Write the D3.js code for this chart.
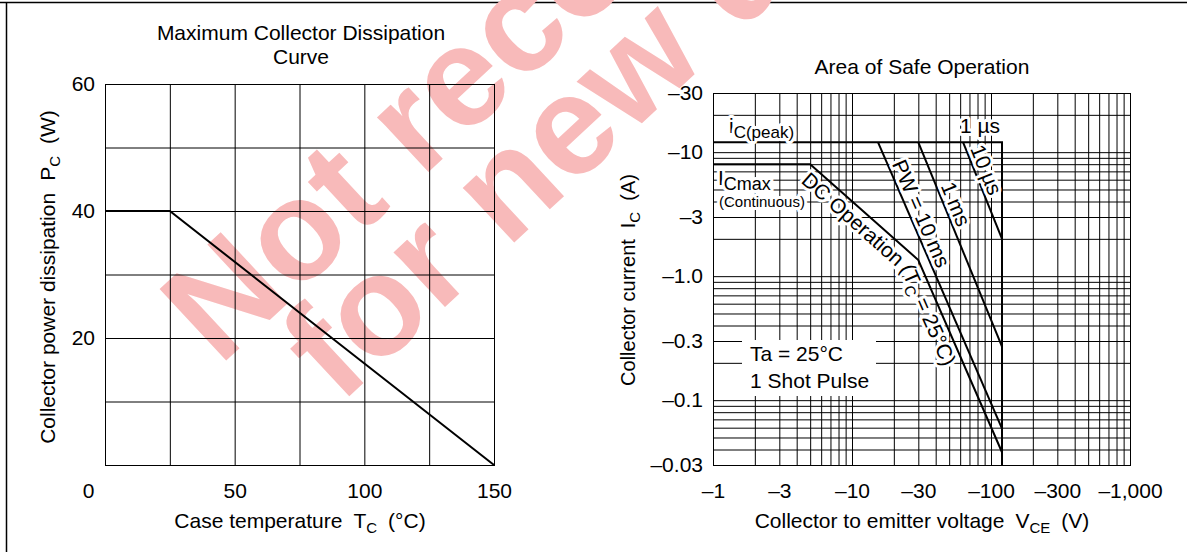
<!DOCTYPE html>
<html>
<head>
<meta charset="utf-8">
<script src="https://cdn.jsdelivr.net/npm/d3@7"></script>
<style>
body { margin: 0; background: #fff; }
text { font-family: "Liberation Sans", Arial, sans-serif; fill: #000; }
</style>
</head>
<body>
<script>
// ---- data: maximum collector dissipation ----
var pcTemp  = [0, 25, 150];
var pcPower = [40, 40, 0];
var tcTicks = [0, 50, 100, 150];
var pcTicks = [20, 40, 60];

// ---- data: area of safe operation (magnitudes, labels carry the sign) ----
var vceTicks  = [1, 3, 10, 30, 100, 300, 1000];
var vceLabels = ["\u20131", "\u20133", "\u201310", "\u201330", "\u2013100", "\u2013300", "\u20131,000"];
var icTicks   = [30, 10, 3, 1, 0.3, 0.1, 0.03];
var icLabels  = ["\u201330", "\u201310", "\u20133", "\u20131.0", "\u20130.3", "\u20130.1", "\u20130.03"];

var peakV   = [1, 120, 120],      peakI   = [12, 12, 0.03];
var dcV     = [1, 5, 30, 120],    dcI     = [8, 8, 1.35, 0.038];
var pw10msV = [15.4, 120],        pw10msI = [12, 0.059];
var pw1msV  = [30, 120],          pw1msI  = [12, 0.27];
var pw10usV = [63, 120],          pw10usI = [12, 2.0];

var FS = "21px", SUB = "15px";

var W = 1187, H = 552;
var svg = d3.select("body").append("svg")
    .attr("width", W)
    .attr("height", H);

// frame lines of the page
svg.append("line").attr("x1", 0).attr("x2", W).attr("y1", 2.5).attr("y2", 2.5)
    .attr("stroke", "#000").attr("stroke-width", 1.5);
svg.append("line").attr("x1", 6.5).attr("x2", 6.5).attr("y1", 2).attr("y2", H)
    .attr("stroke", "#000").attr("stroke-width", 1.5);

// watermark, behind everything else
var wm = svg.append("g").attr("transform", "rotate(-43)");
wm.append("text").attr("x", -90).attr("y", 418)
    .style("font-size", "142px").style("font-weight", "bold").style("fill", "#f8baba")
    .text("Not recommended");
wm.append("text").attr("x", -28).attr("y", 528)
    .style("font-size", "142px").style("font-weight", "bold").style("fill", "#f8baba")
    .text("for new designs");

function halo(sel) {
    return sel.attr("stroke", "#fff").attr("stroke-width", 6)
        .attr("stroke-linejoin", "round").attr("paint-order", "stroke");
}

// ================= left chart =================
var lx = d3.scaleLinear().domain([0, 150]).range([105, 494]);
var ly = d3.scaleLinear().domain([0, 60]).range([465, 84]);

var left = svg.append("g");

var lxAxis = d3.axisBottom(lx)
    .tickValues(d3.range(0, 151, 25))
    .tickSize(-(ly(0) - ly(60)))
    .tickFormat(function(d) { return tcTicks.indexOf(d) >= 0 ? d : ""; });
var gx = left.append("g").attr("transform", "translate(0," + ly(0) + ")").call(lxAxis);
gx.select(".domain").remove();
gx.selectAll(".tick line").attr("stroke", "#000");
gx.selectAll(".tick text")
    .attr("y", 26).attr("dy", "0.35em")
    .attr("dx", function(d) { return d === 0 ? -17 : 0; })
    .style("font-size", FS).style("font-family", "Liberation Sans, Arial, sans-serif");

var lyAxis = d3.axisLeft(ly)
    .tickValues(d3.range(0, 61, 10))
    .tickSize(-(lx(150) - lx(0)))
    .tickFormat(function(d) { return pcTicks.indexOf(d) >= 0 ? d : ""; });
var gy = left.append("g").attr("transform", "translate(" + lx(0) + ",0)").call(lyAxis);
gy.select(".domain").remove();
gy.selectAll(".tick line").attr("stroke", "#000");
gy.selectAll(".tick text")
    .attr("x", -10)
    .style("font-size", FS).style("font-family", "Liberation Sans, Arial, sans-serif");

// frame of the plot
left.append("rect")
    .attr("x", lx(0) + 0.5).attr("y", ly(60) + 0.5)
    .attr("width", lx(150) - lx(0)).attr("height", ly(0) - ly(60))
    .attr("fill", "none").attr("stroke", "#000");

var pcLine = d3.line()
    .x(function(d, i) { return lx(pcTemp[i]); })
    .y(function(d, i) { return ly(pcPower[i]); });
left.append("path")
    .attr("d", pcLine(pcTemp))
    .attr("fill", "none").attr("stroke", "#000").attr("stroke-width", 2);

left.append("text").attr("x", 301).attr("y", 40).attr("text-anchor", "middle")
    .style("font-size", FS).text("Maximum Collector Dissipation");
left.append("text").attr("x", 301).attr("y", 64).attr("text-anchor", "middle")
    .style("font-size", FS).text("Curve");

var lxl = left.append("text").attr("x", 300).attr("y", 528).attr("text-anchor", "middle")
    .style("font-size", FS);
lxl.append("tspan").text("Case temperature");
lxl.append("tspan").attr("dx", 11).text("T");
lxl.append("tspan").attr("dy", 5).style("font-size", SUB).text("C");
lxl.append("tspan").attr("dy", -5).attr("dx", 11).text("(\u00b0C)");

var lyl = left.append("text")
    .attr("transform", "translate(55,277) rotate(-90)")
    .attr("text-anchor", "middle")
    .style("font-size", FS);
lyl.append("tspan").text("Collector power dissipation");
lyl.append("tspan").attr("dx", 12).text("P");
lyl.append("tspan").attr("dy", 5).style("font-size", SUB).text("C");
lyl.append("tspan").attr("dy", -5).attr("dx", 12).text("(W)");

// ================= right chart =================
var rx = d3.scaleLog().domain([1, 1000]).range([713, 1130]);
var ry = d3.scaleLog().domain([0.03, 30]).range([465, 93]);

var right = svg.append("g");

var rxAxis = d3.axisBottom(rx)
    .tickValues(rx.ticks())
    .tickSize(-(ry(0.03) - ry(30)))
    .tickFormat(function(d) {
        var k = vceTicks.indexOf(d);
        return k >= 0 ? vceLabels[k] : "";
    });
var grx = right.append("g").attr("transform", "translate(0," + ry(0.03) + ")").call(rxAxis);
grx.select(".domain").remove();
grx.selectAll(".tick line").attr("stroke", "#000");
grx.selectAll(".tick text")
    .attr("y", 26).attr("dy", "0.35em")
    .style("font-size", FS).style("font-family", "Liberation Sans, Arial, sans-serif");

var ryAxis = d3.axisLeft(ry)
    .tickValues(ry.ticks())
    .tickSize(-(rx(1000) - rx(1)))
    .tickFormat(function(d) {
        var k = -1;
        icTicks.forEach(function(t, i) { if (Math.abs(t - d) < 1e-9) k = i; });
        return k >= 0 ? icLabels[k] : "";
    });
var gry = right.append("g").attr("transform", "translate(" + rx(1) + ",0)").call(ryAxis);
gry.select(".domain").remove();
gry.selectAll(".tick line").attr("stroke", "#000");
gry.selectAll(".tick text")
    .attr("x", -10)
    .style("font-size", FS).style("font-family", "Liberation Sans, Arial, sans-serif");

right.append("rect")
    .attr("x", rx(1) + 0.5).attr("y", ry(30) + 0.5)
    .attr("width", rx(1000) - rx(1)).attr("height", ry(0.03) - ry(30))
    .attr("fill", "none").attr("stroke", "#000");

function soaLine(vs, is) {
    return d3.line()
        .x(function(d, i) { return rx(vs[i]); })
        .y(function(d, i) { return ry(is[i]); })(vs);
}
[[peakV, peakI], [dcV, dcI], [pw10msV, pw10msI], [pw1msV, pw1msI], [pw10usV, pw10usI]]
    .forEach(function(s) {
        right.append("path").attr("d", soaLine(s[0], s[1]))
            .attr("fill", "none").attr("stroke", "#000").attr("stroke-width", 2);
    });

// label placed along a segment of a curve
function alongLine(vs, is, k, t, off) {
    var ax = rx(vs[k]), ay = ry(is[k]), bx = rx(vs[k + 1]), by = ry(is[k + 1]);
    var ang = Math.atan2(by - ay, bx - ax);
    var ux = Math.sin(ang), uy = -Math.cos(ang);
    var px = ax + t * (bx - ax) + off * ux, py = ay + t * (by - ay) + off * uy;
    return "translate(" + px + "," + py + ") rotate(" + (ang * 180 / Math.PI) + ")";
}

var t1 = halo(right.append("text").attr("x", 729).attr("y", 133).style("font-size", FS));
t1.append("tspan").text("i");
t1.append("tspan").attr("dy", 5).style("font-size", "17px").text("C(peak)");

halo(right.append("text").attr("x", 960).attr("y", 133).style("font-size", FS)).text("1 \u00b5s");

var t2 = halo(right.append("text").attr("x", 718).attr("y", 185).style("font-size", FS));
t2.append("tspan").text("I");
t2.append("tspan").attr("dy", 5).style("font-size", "18px").text("Cmax");
halo(right.append("text").attr("x", 719).attr("y", 207).style("font-size", "15px"))
    .text("(Continuous)");

halo(right.append("text").attr("transform", alongLine(dcV, dcI, 1, 0.03, -20))
    .style("font-size", FS)).text("DC Operation");
var t3 = halo(right.append("text").attr("transform", alongLine(dcV, dcI, 2, 0.0, -20))
    .style("font-size", FS));
t3.append("tspan").text("(T");
t3.append("tspan").attr("dy", 5).style("font-size", SUB).text("C");
t3.append("tspan").attr("dy", -5).text(" = 25\u00b0C)");

halo(right.append("text").attr("transform", alongLine(pw10msV, pw10msI, 0, 0.08, 4))
    .style("font-size", FS)).text("PW = 10 ms");
halo(right.append("text").attr("transform", alongLine(pw1msV, pw1msI, 0, 0.22, 4))
    .style("font-size", FS)).text("1 ms");
halo(right.append("text").attr("transform", alongLine(pw10usV, pw10usI, 0, 0.08, 4))
    .style("font-size", FS)).text("10 \u00b5s");

right.append("rect").attr("x", 742).attr("y", 340).attr("width", 134).attr("height", 56)
    .attr("fill", "#fff");
right.append("text").attr("x", 750).attr("y", 361).style("font-size", FS).text("Ta = 25\u00b0C");
right.append("text").attr("x", 750).attr("y", 388).style("font-size", FS).text("1 Shot Pulse");

right.append("text").attr("x", 922).attr("y", 74).attr("text-anchor", "middle")
    .style("font-size", FS).text("Area of Safe Operation");

var rxl = right.append("text").attr("x", 922).attr("y", 528).attr("text-anchor", "middle")
    .style("font-size", FS);
rxl.append("tspan").text("Collector to emitter voltage");
rxl.append("tspan").attr("dx", 11).text("V");
rxl.append("tspan").attr("dy", 5).style("font-size", SUB).text("CE");
rxl.append("tspan").attr("dy", -5).attr("dx", 11).text("(V)");

var ryl = right.append("text")
    .attr("transform", "translate(635,280) rotate(-90)")
    .attr("text-anchor", "middle")
    .style("font-size", "20px");
ryl.append("tspan").text("Collector current");
ryl.append("tspan").attr("dx", 11).text("I");
ryl.append("tspan").attr("dy", 5).style("font-size", SUB).text("C");
ryl.append("tspan").attr("dy", -5).attr("dx", 11).text("(A)");
</script>
</body>
</html>
